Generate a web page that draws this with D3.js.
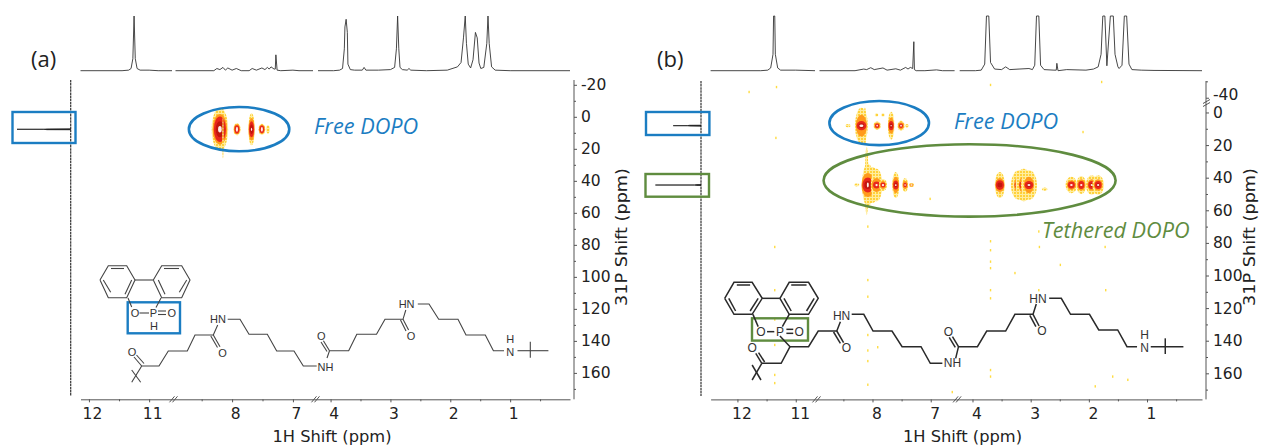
<!DOCTYPE html>
<html lang="en">
<head>
  <meta charset="UTF-8">
  <title>1H-31P HETCOR of DOPO on nylon</title>
  <script src="https://d3js.org/d3.v7.min.js"></script>
  <style>
    body { margin: 0; background: #fff; }
    svg { display: block; }
    text { font-family: "DejaVu Sans", sans-serif; fill: #222; }
    .axis path, .axis line { stroke: #555; stroke-width: 1; }
    .axis text { font-size: 15.5px; fill: #222; font-family: "DejaVu Sans", sans-serif; }
    .trace { fill: none; stroke: #333; stroke-width: 0.9; }
    .bond { fill: none; stroke: #444; stroke-width: 1.1; }
    .atom { font-family: "Liberation Sans", sans-serif; font-size: 11px; text-anchor: middle; dominant-baseline: central; fill: #333; }
    .title { font-size: 16.3px; text-anchor: middle; }
    .note { font-family: "Open Sans", sans-serif; font-style: italic; font-size: 21.7px; }
    .panel { font-family: "Open Sans", sans-serif; font-size: 22px; }
  </style>
</head>
<body>
  <script>
    // tick labels
    const hTicks = [12, 11, 8, 7, 4, 3, 2, 1];
    const hMinor = [11.5, 8.5, 7.5, 3.5, 2.5, 1.5, 0.5];
    const pTicksA = [-20, 0, 20, 40, 60, 80, 100, 120, 140, 160];
    const pMinorA = [-10, 10, 30, 50, 70, 90, 110, 130, 150, 170];
    const pTicksB = [-40, 0, 20, 40, 60, 80, 100, 120, 140, 160];
    const pMinorB = [-50, 10, 30, 50, 70, 90, 110, 130, 150, 170];

    // 1H projection, panel a (ppm, height in % of the clipped top)
    const traceAppm = [12.14, 11.45, 11.34, 11.3, 11.27, 11.25, 11.23, 11.2, 11.15, 11.0, 10.85, 10.62];
    const traceAint = [0, 0, 1, 4, 22, 100, 22, 4, 1, 1, 0, 0];
    const traceA2ppm = [8.93, 8.3, 8.25, 8.2, 8.15, 8.11, 8.07, 8.0, 7.93, 7.85, 7.72, 7.67, 7.6, 7.51, 7.46, 7.42, 7.39, 7.36, 7.31, 7.29, 7.28, 7.26, 7.2, 7.0, 6.9, 6.67];
    const traceA2int = [0, 0, 4, 2, 6, 1, 5, 1, 4, 0, 0, 4, 1, 5, 2, 6, 3, 7, 3, 3, 29, 1, 0, 1, 0, 0];
    const traceA3ppm = [4.21, 3.95, 3.85, 3.8, 3.77, 3.76, 3.74, 3.72, 3.71, 3.67, 3.6, 3.47, 3.44, 3.41, 3.2, 3.0, 2.93, 2.9, 2.88, 2.86, 2.84, 2.8, 2.72, 2.69, 2.66, 2.4, 2.05, 1.88, 1.82, 1.78, 1.75, 1.73, 1.7, 1.66, 1.62, 1.58, 1.55, 1.52, 1.49, 1.44, 1.39, 1.37, 1.35, 1.31, 1.25, 1.0, 0];
    const traceA3int = [0, 0, 1, 4, 40, 80, 94, 70, 12, 2, 1, 1, 6, 1, 1, 2, 6, 40, 100, 40, 6, 2, 1, 4, 1, 0, 1, 7, 15, 60, 100, 50, 12, 5, 20, 70, 60, 14, 4, 6, 50, 100, 50, 7, 1, 0, 0];

    // 1H projection, panel b
    const traceBppm = [12.46, 11.6, 11.48, 11.43, 11.39, 11.38, 11.36, 11.35, 11.31, 11.26, 11.0, 10.67];
    const traceBint = [0, 0, 1, 5, 30, 100, 100, 30, 5, 1, 1, 0];
    const traceB2ppm = [8.91, 8.3, 8.15, 8.1, 8.03, 7.97, 7.82, 7.75, 7.6, 7.52, 7.43, 7.39, 7.35, 7.31, 7.29, 7.28, 7.25, 7.1, 6.9, 6.8, 6.59];
    const traceB2int = [0, 0, 3, 2, 5.5, 2, 5, 1, 3.5, 1, 6, 3, 6, 4, 53, 2, 0, 0, 1.5, 0, 0];
    const traceB3ppm = [4.22, 3.95, 3.85, 3.79, 3.76, 3.72, 3.69, 3.62, 3.5, 3.43, 3.36, 3.2, 3.03, 2.97, 2.93, 2.9, 2.86, 2.83, 2.77, 2.6, 2.56, 2.55, 2.53, 2.38, 2.05, 1.92, 1.84, 1.79, 1.76, 1.725, 1.69, 1.63, 1.58, 1.55, 1.5, 1.48, 1.43, 1.39, 1.35, 1.31, 1.26, 1.1, 0.88, 0.055];
    const traceB3int = [0, 0, 1, 12, 100, 100, 15, 3, 2, 7, 2, 3, 4, 2, 10, 100, 100, 10, 2, 1, 1, 13.5, 0, 2, 1, 3, 7, 30, 100, 100, 9, 100, 100, 30, 7, 4, 10, 100, 100, 12, 2, 1, 0.5, 0];

    // 31P projections (ppm, height in %)
    const projAppm = [7.5, 7.55, 7.78, 7.8, 7.82, 8.05, 8.1];
    const projAint = [0, 44, 50, 100, 50, 44, 0];
    const projBppm = [7.8, 7.85, 8.08, 8.1, 8.12, 8.35, 8.4];
    const projBint = [0, 25, 30, 61, 30, 25, 0];
    const projB2ppm = [44.2, 44.25, 44.48, 44.5, 44.52, 44.75, 44.8];
    const projB2int = [0, 10, 14, 100, 14, 10, 0];

    // cross peaks, panel a: centre and half extents (ppm) per contour level
    const peakAh = [8.2, 8.15, 7.92, 7.68, 7.51, 7.41];
    const peakAp = [7.8, 13, 7.8, 7.8, 7.8, 7.8];
    const peakAw = [
      [0.135, 0.12, 0.1, 0.07, 0.03],
      [0.012, 0, 0, 0, 0],
      [0.06, 0.05, 0.04, 0, 0.017],
      [0.053, 0.05, 0.042, 0.025, 0.01],
      [0.055, 0.048, 0.038, 0, 0.016],
      [0.03, 0, 0, 0, 0]
    ];
    const peakAt = [
      [13.5, 9.5, 8, 5, 2],
      [13, 0, 0, 0, 0],
      [3.8, 3.1, 2.6, 0, 1.6],
      [10, 7, 5, 3, 1],
      [3.5, 2.9, 2.4, 0, 1.5],
      [2.6, 0, 0, 0, 0]
    ];

    // cross peaks, panel b
    const peakBh = [8.13, 8.19, 7.92, 7.68, 7.51, 7.41, 8.42, 7.93, 7.82, 7.67,
      8.1, 8.01, 8.08, 7.93, 7.82, 7.6, 7.44, 7.33, 8.27,
      3.53, 3.2, 3.12, 3.03, 2.76, 2.3, 2.13, 1.95, 1.84];
    const peakBp = [8.5, 8.1, 8.1, 8.1, 8.1, 8.1, 8.1, 1.5, 1.5, 1.5,
      42, 44.5, 44.5, 44.5, 44.5, 44.5, 44.5, 44.5, 44.5,
      44.5, 44.5, 44.5, 44.5, 47, 44.5, 44.5, 44.5, 44.5];
    const peakBw = [
      [0.025, 0, 0, 0, 0],
      [0.11, 0.095, 0.085, 0.05, 0.035],
      [0.06, 0.048, 0.038, 0, 0.014],
      [0.055, 0.05, 0.043, 0.026, 0.012],
      [0.06, 0.05, 0.034, 0, 0.015],
      [0.034, 0, 0, 0, 0],
      [0.045, 0, 0, 0, 0],
      [0.03, 0, 0, 0, 0],
      [0.03, 0, 0, 0, 0],
      [0.03, 0, 0, 0, 0],
      [0.03, 0, 0, 0, 0],
      [0.14, 0, 0, 0, 0],
      [0.1, 0.11, 0.095, 0.06, 0.017],
      [0.1, 0.085, 0.06, 0, 0.02],
      [0.07, 0.05, 0.043, 0, 0.02],
      [0.06, 0.055, 0.045, 0.026, 0.015],
      [0.05, 0.043, 0.03, 0, 0.014],
      [0.043, 0.034, 0, 0, 0.017],
      [0.045, 0, 0, 0, 0],
      [0.086, 0.08, 0.07, 0.043, 0],
      [0.14, 0.085, 0.077, 0.043, 0.026],
      [0.14, 0.085, 0.077, 0.043, 0],
      [0.14, 0.085, 0.077, 0.043, 0.026],
      [0.05, 0, 0, 0, 0],
      [0.1, 0.077, 0.06, 0, 0.022],
      [0.086, 0.07, 0.052, 0, 0.02],
      [0.1, 0.075, 0.06, 0.03, 0.02],
      [0.1, 0.075, 0.06, 0.03, 0.02]
    ];
    const peakBt = [
      [11.6, 0, 0, 0, 0],
      [11, 6.7, 2.8, 1.5, 0.8],
      [2.5, 1.9, 1.4, 0, 0.5],
      [8.6, 5, 2.8, 1.5, 0.4],
      [3, 2.1, 1.4, 0, 0.55],
      [1.1, 0, 0, 0, 0],
      [1, 0, 0, 0, 0],
      [1, 0, 0, 0, 0],
      [1, 0, 0, 0, 0],
      [1, 0, 0, 0, 0],
      [21, 0, 0, 0, 0],
      [11, 0, 0, 0, 0],
      [13, 7.4, 4.6, 2.5, 1.5],
      [10, 4.3, 2.1, 0, 0.7],
      [3.7, 2.5, 1.5, 0, 0.7],
      [8, 5, 2.8, 1.5, 0.55],
      [4.3, 2.5, 1.4, 0, 0.5],
      [1.2, 1, 0, 0, 0.5],
      [0.9, 0, 0, 0, 0],
      [8, 4.3, 3, 1.5, 0],
      [9, 5, 2.5, 1.2, 0.6],
      [10, 5, 2.5, 1.2, 0],
      [9, 5, 2.5, 1.2, 0.6],
      [1, 0, 0, 0, 0],
      [5, 3, 2.1, 0, 0.6],
      [5.5, 3.5, 2.4, 0, 0.6],
      [6, 3.5, 2.5, 1.2, 0.6],
      [6, 3.5, 2.5, 1.2, 0.6]
    ];

    // stray yellow specks in panel b
    const specksH = [8.08, 8.08, 8.08, 8.08, 8.08, 8.08, 8.08,
      3.69, 3.69, 3.69, 3.69, 3.69, 3.69, 3.69, 3.69,
      11.36, 11.36, 11.36, 11.36, 11.36, 11.36,
      11.33, 11.34, 11.8, 3.69, 1.78, 2.1, 7.01, 2.49, 3.27, 2.86, 2.86, 1.71, 1.59, 1.33, 1.89, 7.91, 6.63, 2.85, 1.72];
    const specksP = [70, 102.8, 113, 136.5, 146, 152.5, 167,
      79, 84.5, 91.5, 95.5, 109, 114, 158, 162,
      82.5, 109, 127, 142.6, 161, 166,
      -46.5, 15.6, -43.5, -47.8, -49.6, 12, 53, 93.5, 98.5, 73, 109, 109, 162, 164, 168, 144, 171.5, 82.5, 82.5];

    const levelColors = ["url(#speckle)", "#ff9a1f", "#e8281c", "#c2140f", "#fff0e8"];

    const width = 1262;
    const height = 446;

    const svg = d3.select("body").append("svg")
      .attr("width", width)
      .attr("height", height);

    const defs = svg.append("defs");
    const speckle = defs.append("pattern")
      .attr("id", "speckle")
      .attr("patternUnits", "userSpaceOnUse")
      .attr("width", 3).attr("height", 3);
    speckle.append("rect").attr("width", 3).attr("height", 3).attr("fill", "#ffeda0");
    speckle.append("rect").attr("width", 2).attr("height", 2).attr("fill", "#ffd23a");
    defs.append("filter").attr("id", "soft")
      .append("feGaussianBlur").attr("stdDeviation", 0.4);

    // Draw one panel: spectra, cross peaks and axes
    function drawPanel(cfg) {
      const g = svg.append("g");
      const x = d3.scaleLinear().domain(cfg.hDomain).range(cfg.hRange);
      const y = d3.scaleLinear().domain(cfg.pDomain).range(cfg.pRange);
      const yTop = d3.scaleLinear().domain([0, 100]).range([70.7, 16]);
      const xSide = d3.scaleLinear().domain([0, 100]).range(cfg.sideRange);

      // top 1H spectrum, one path per broken segment
      const topLine = d3.line().x(d => x(d[0])).y(d => yTop(d[1]));
      g.selectAll(".trace-top")
        .data(cfg.traces)
        .enter()
        .append("path")
        .attr("class", "trace")
        .attr("d", d => topLine(d3.zip(d[0], d[1])));

      // left 31P spectrum
      g.append("line")
        .attr("x1", cfg.sideRange[0]).attr("x2", cfg.sideRange[0])
        .attr("y1", cfg.pRange[0]).attr("y2", 396)
        .attr("stroke", "#333").attr("stroke-width", 1.2)
        .attr("stroke-dasharray", "2.5 0.6");
      const sideLine = d3.line().x(d => xSide(d[1])).y(d => y(d[0]));
      g.selectAll(".trace-side")
        .data(cfg.projections)
        .enter()
        .append("path")
        .attr("d", d => sideLine(d3.zip(d[0], d[1])))
        .attr("fill", "#111").attr("stroke", "#111").attr("stroke-width", 0.7);

      // cross peaks as nested contour levels
      const peaks = g.append("g").attr("filter", "url(#soft)");
      cfg.peakH.forEach((h, i) => {
        levelColors.forEach((color, k) => {
          if (!cfg.peakW[i][k]) return;
          peaks.append("ellipse")
            .attr("cx", x(h))
            .attr("cy", y(cfg.peakP[i]))
            .attr("rx", Math.abs(x(h + cfg.peakW[i][k]) - x(h)))
            .attr("ry", Math.abs(y(cfg.peakP[i] + cfg.peakT[i][k]) - y(cfg.peakP[i])))
            .attr("fill", color);
        });
      });
      peaks.selectAll(".speck")
        .data(d3.zip(cfg.specksH, cfg.specksP))
        .enter()
        .append("rect")
        .attr("x", d => x(d[0]) - 0.7)
        .attr("y", d => y(d[1]) - 1.2)
        .attr("width", 1.4)
        .attr("height", 2.4)
        .attr("fill", "#ffdc40");

      // axes
      const axisY = cfg.pRange[cfg.pRange.length - 1];
      const axisX = cfg.hRange[cfg.hRange.length - 1];
      const bottom = g.append("g").attr("class", "axis")
        .attr("transform", `translate(0,${axisY})`)
        .call(d3.axisBottom(x).tickValues(hTicks).tickSize(3).tickPadding(6).tickSizeOuter(0));
      bottom.selectAll("text").attr("dx", cfg.labelShift);
      const right = g.append("g").attr("class", "axis")
        .attr("transform", `translate(${axisX + 4},0)`)
        .call(d3.axisRight(y).tickValues(cfg.pTicks).tickFormat(String).tickSize(3).tickPadding(4).tickSizeOuter(0));
      right.select(".domain").remove();
      // -40 sits close above 0 on the broken axis
      right.selectAll("text").filter(d => d === -40).attr("y", -3.5);
      g.append("g").attr("class", "axis")
        .attr("transform", `translate(0,${axisY})`)
        .call(d3.axisBottom(x).tickValues(hMinor).tickSize(2).tickFormat("").tickSizeOuter(0))
        .select(".domain").remove();
      g.append("g").attr("class", "axis")
        .attr("transform", `translate(${axisX + 4},0)`)
        .call(d3.axisRight(y).tickValues(cfg.pMinor).tickSize(2).tickFormat("").tickSizeOuter(0))
        .select(".domain").remove();
      g.append("line")
        .attr("x1", axisX + 4).attr("x2", axisX + 4)
        .attr("y1", cfg.pRange[0]).attr("y2", axisY)
        .attr("stroke", "#555");

      // break marks on the 1H axis
      [cfg.hRange[1] + 1.5, cfg.hRange[3] + 2.5].forEach(bx => {
        [-1.5, 1.5].forEach(o => {
          g.append("line")
            .attr("x1", bx + o - 2.5).attr("y1", axisY + 3)
            .attr("x2", bx + o + 2.5).attr("y2", axisY - 3)
            .attr("stroke", "#555");
        });
      });

      // annotation ellipses
      cfg.rings.forEach(r => {
        g.append("ellipse")
          .attr("cx", (x(r.h[0]) + x(r.h[1])) / 2)
          .attr("cy", (y(r.p[0]) + y(r.p[1])) / 2)
          .attr("rx", Math.abs(x(r.h[1]) - x(r.h[0])) / 2)
          .attr("ry", Math.abs(y(r.p[1]) - y(r.p[0])) / 2)
          .attr("fill", "none")
          .attr("stroke", r.color)
          .attr("stroke-width", 2.6);
      });

      return { x, y };
    }

    const blue = "#1b7dc2";
    const green = "#5f8c3f";

    drawPanel({
      hDomain: [12.14, 10.62, 8.93, 6.67, 4.21, 0],
      hRange: [80.5, 172, 175.5, 313, 318, 570],
      pDomain: [-23, 176.5],
      pRange: [80, 399.3],
      sideRange: [70.7, 17],
      labelShift: 3,
      traces: [[traceAppm, traceAint], [traceA2ppm, traceA2int], [traceA3ppm, traceA3int]],
      projections: [[projAppm, projAint]],
      peakH: peakAh, peakP: peakAp, peakW: peakAw, peakT: peakAt,
      specksH: [], specksP: [],
      pTicks: pTicksA, pMinor: pMinorA,
      rings: [{ h: [8.71, 7.06], p: [-6.1, 21.5], color: blue }]
    });

    drawPanel({
      hDomain: [12.46, 10.67, 8.91, 6.59, 4.22, 0.055],
      hRange: [710.6, 815, 819.5, 954.6, 959.7, 1202],
      pDomain: [-50.2, -37.4, -5.2, 176],
      pRange: [81, 102, 104, 399.4],
      sideRange: [701, 655.4],
      labelShift: 4,
      traces: [[traceBppm, traceBint], [traceB2ppm, traceB2int], [traceB3ppm, traceB3int]],
      projections: [[projBppm, projBint], [projB2ppm, projB2int]],
      peakH: peakBh, peakP: peakBp, peakW: peakBw, peakT: peakBt,
      specksH: specksH, specksP: specksP,
      pTicks: pTicksB, pMinor: pMinorB,
      rings: [
        { h: [8.74, 7.03], p: [-38, 20], color: blue },
        { h: [8.84, 1.54], p: [19.5, 63.9], color: green }
      ]
    });

    // break mark on the 31P axis of panel b
    [-1.5, 1.5].forEach(o => {
      svg.append("line")
        .attr("x1", 1203).attr("y1", 105 + o)
        .attr("x2", 1210).attr("y2", 101 + o)
        .attr("stroke", "#555");
    });

    // axis titles and panel labels
    svg.append("text").attr("class", "title").attr("x", 332).attr("y", 442).text("1H Shift (ppm)");
    svg.append("text").attr("class", "title").attr("x", 962.5).attr("y", 442).text("1H Shift (ppm)");
    svg.append("text").attr("class", "title")
      .attr("transform", "translate(627,237) rotate(-90)")
      .attr("textLength", 138).attr("lengthAdjust", "spacingAndGlyphs")
      .text("31P Shift (ppm)");
    svg.append("text").attr("class", "title")
      .attr("transform", "translate(1255,237) rotate(-90)")
      .attr("textLength", 138).attr("lengthAdjust", "spacingAndGlyphs")
      .text("31P Shift (ppm)");
    svg.append("text").attr("class", "panel").attr("x", 31).attr("y", 67).text("(a)");
    svg.append("text").attr("class", "panel").attr("x", 657).attr("y", 67).text("(b)");

    svg.append("text").attr("class", "note").attr("x", 314).attr("y", 134).style("fill", blue).text("Free DOPO");
    svg.append("text").attr("class", "note").attr("x", 954).attr("y", 129).style("fill", blue).text("Free DOPO");
    svg.append("text").attr("class", "note").attr("x", 1042).attr("y", 238).style("fill", green).text("Tethered DOPO");

    // boxes around the 31P traces and the phosphorus groups
    const boxes = [
      [12.5, 112, 63, 31, blue], [646, 112, 63.4, 23, blue], [645.5, 174, 63.5, 22.7, green],
      [127.7, 302.3, 52.3, 31, blue], [752, 318.3, 56, 22.3, green]
    ];
    svg.selectAll(".box")
      .data(boxes)
      .enter()
      .append("rect")
      .attr("x", d => d[0]).attr("y", d => d[1])
      .attr("width", d => d[2]).attr("height", d => d[3])
      .attr("fill", "none")
      .attr("stroke", d => d[4])
      .attr("stroke-width", 2.4);

    // chemical structures
    const bondLine = d3.line();
    function drawBonds(parent, bonds, atoms) {
      parent.selectAll(".bond")
        .data(bonds)
        .enter()
        .append("path")
        .attr("class", "bond")
        .attr("d", bondLine);
      parent.selectAll(".atom")
        .data(atoms)
        .enter()
        .append("text")
        .attr("class", "atom")
        .attr("x", d => d[0]).attr("y", d => d[1])
        .text(d => d[2]);
    }

    const bondsA = [
      [[100, 280], [108.3, 265.7], [126.7, 265.7], [135, 280], [126.7, 297.7], [108.3, 297.7], [100, 280]],
      [[111, 268.5], [124, 268.5]], [[103.3, 280], [110.7, 292.3]], [[131.7, 280], [125, 294.3]],
      [[153.3, 280], [161.7, 265.7], [181.7, 265.7], [190, 280], [181.7, 297.7], [161.7, 297.7], [153.3, 280]],
      [[164, 268.5], [179, 268.5]], [[158.3, 280], [165, 294.3]], [[186.7, 280], [179.3, 292.3]],
      [[135, 280], [153.3, 280]], [[128, 298], [131.7, 307]], [[161, 298], [156, 307.5]],
      [[139.5, 313], [149, 313]], [[158, 311], [166, 311]], [[158, 314.5], [166, 314.5]],
      [[131.7, 370], [140.7, 382.3]], [[131.7, 382.3], [141.7, 366]],
      [[141.7, 366], [159, 366], [168.3, 351], [187.3, 351], [195, 335], [213.3, 335], [217.7, 325]],
      [[141.7, 366], [134, 357]], [[144, 363.5], [136.5, 355]],
      [[213.3, 335], [220, 346.7]], [[210.8, 336], [217.5, 347.5]],
      [[227.7, 319.3], [240, 319.3], [249, 334.3], [267.3, 334.3], [276.7, 351], [294, 351], [303.3, 366], [316.7, 366]],
      [[327, 358], [329.5, 350.7], [348.7, 350.7], [356.8, 334.3], [376.5, 334.3], [385, 319.3], [403, 319.3], [405.8, 310]],
      [[329.5, 350.7], [323.4, 340.7]], [[327, 351.5], [321, 342]],
      [[403, 319.3], [408.6, 330]], [[400.5, 320], [406, 331]],
      [[417.8, 304], [429, 304], [438.7, 319.3], [458, 319.3], [466, 335], [485.3, 335], [493.4, 350.7], [504, 350.7]],
      [[517.5, 350.7], [548.4, 350.7]], [[530.3, 341.7], [530.3, 357.7]]
    ];
    const atomsA = [
      [135, 313, "O"], [153.3, 313, "P"], [171.7, 313, "O"], [154, 326, "H"],
      [132, 351.5, "O"], [222.5, 352.5, "O"], [218, 319.3, "HN"], [325.5, 366.7, "NH"],
      [321.4, 335.7, "O"], [411, 335.7, "O"], [406.6, 304, "HN"], [510.3, 351.5, "N"], [510.3, 338.5, "H"]
    ];
    drawBonds(svg.append("g"), bondsA, atomsA);

    // panel b structure, digitised in crop units and mapped to the page
    const bx = d3.scaleLinear().domain([0, 1568]).range([630, 1262]);
    const by = d3.scaleLinear().domain([0, 648]).range([230, 446]);
    const toPage = p => [bx(p[0]), by(p[1])];
    const bondsB = [
      [[235, 205], [258, 157], [303, 157], [328, 205], [303, 253], [258, 253], [235, 205]],
      [[265, 165], [298, 165]], [[245, 205], [262, 243]], [[318, 205], [298, 243]],
      [[372, 205], [395, 157], [443, 157], [467, 205], [443, 253], [395, 253], [372, 205]],
      [[400, 165], [438, 165]], [[382, 205], [400, 243]], [[457, 205], [438, 243]],
      [[328, 205], [372, 205]], [[305, 253], [318, 290]], [[395, 253], [378, 290]],
      [[340, 305], [358, 305]], [[388, 298], [405, 298]], [[388, 310], [405, 310]],
      [[372, 318], [397, 350], [443, 350], [467, 303], [513, 303], [522, 275]],
      [[397, 350], [375, 400], [327, 400]], [[327, 400], [312, 370]], [[334, 396], [319, 368]],
      [[303, 405], [325, 450]], [[303, 450], [327, 400]],
      [[513, 303], [530, 338]], [[505, 306], [522, 340]],
      [[550, 253], [580, 253], [603, 303], [650, 303], [675, 350], [722, 350], [745, 400], [775, 400]],
      [[808, 385], [815, 350], [862, 350], [885, 303], [932, 303], [955, 253], [1000, 253], [1008, 222]],
      [[815, 350], [800, 320]], [[807, 352], [792, 322]],
      [[1000, 253], [1015, 288]], [[992, 256], [1007, 290]],
      [[1040, 205], [1070, 205], [1093, 253], [1140, 253], [1163, 300], [1210, 300], [1233, 350], [1258, 350]],
      [[1292, 350], [1373, 350]], [[1328, 325], [1328, 372]]
    ].map(b => b.map(toPage));
    const atomsB = [
      [325, 305, "O"], [372, 305, "P"], [420, 305, "O"], [303, 353, "O"], [537, 353, "O"],
      [525, 257, "HN"], [800, 400, "NH"], [790, 305, "O"], [1022, 303, "O"], [1012, 208, "HN"],
      [1277, 355, "N"], [1277, 314, "H"]
    ].map(a => [bx(a[0]), by(a[1]), a[2]]);
    const structB = svg.append("g");
    drawBonds(structB, bondsB, atomsB);
    structB.selectAll(".bond").style("stroke", "#2a2a2a").style("stroke-width", 1.5);
    structB.selectAll(".atom").style("font-size", "12px");
  </script>
</body>
</html>
